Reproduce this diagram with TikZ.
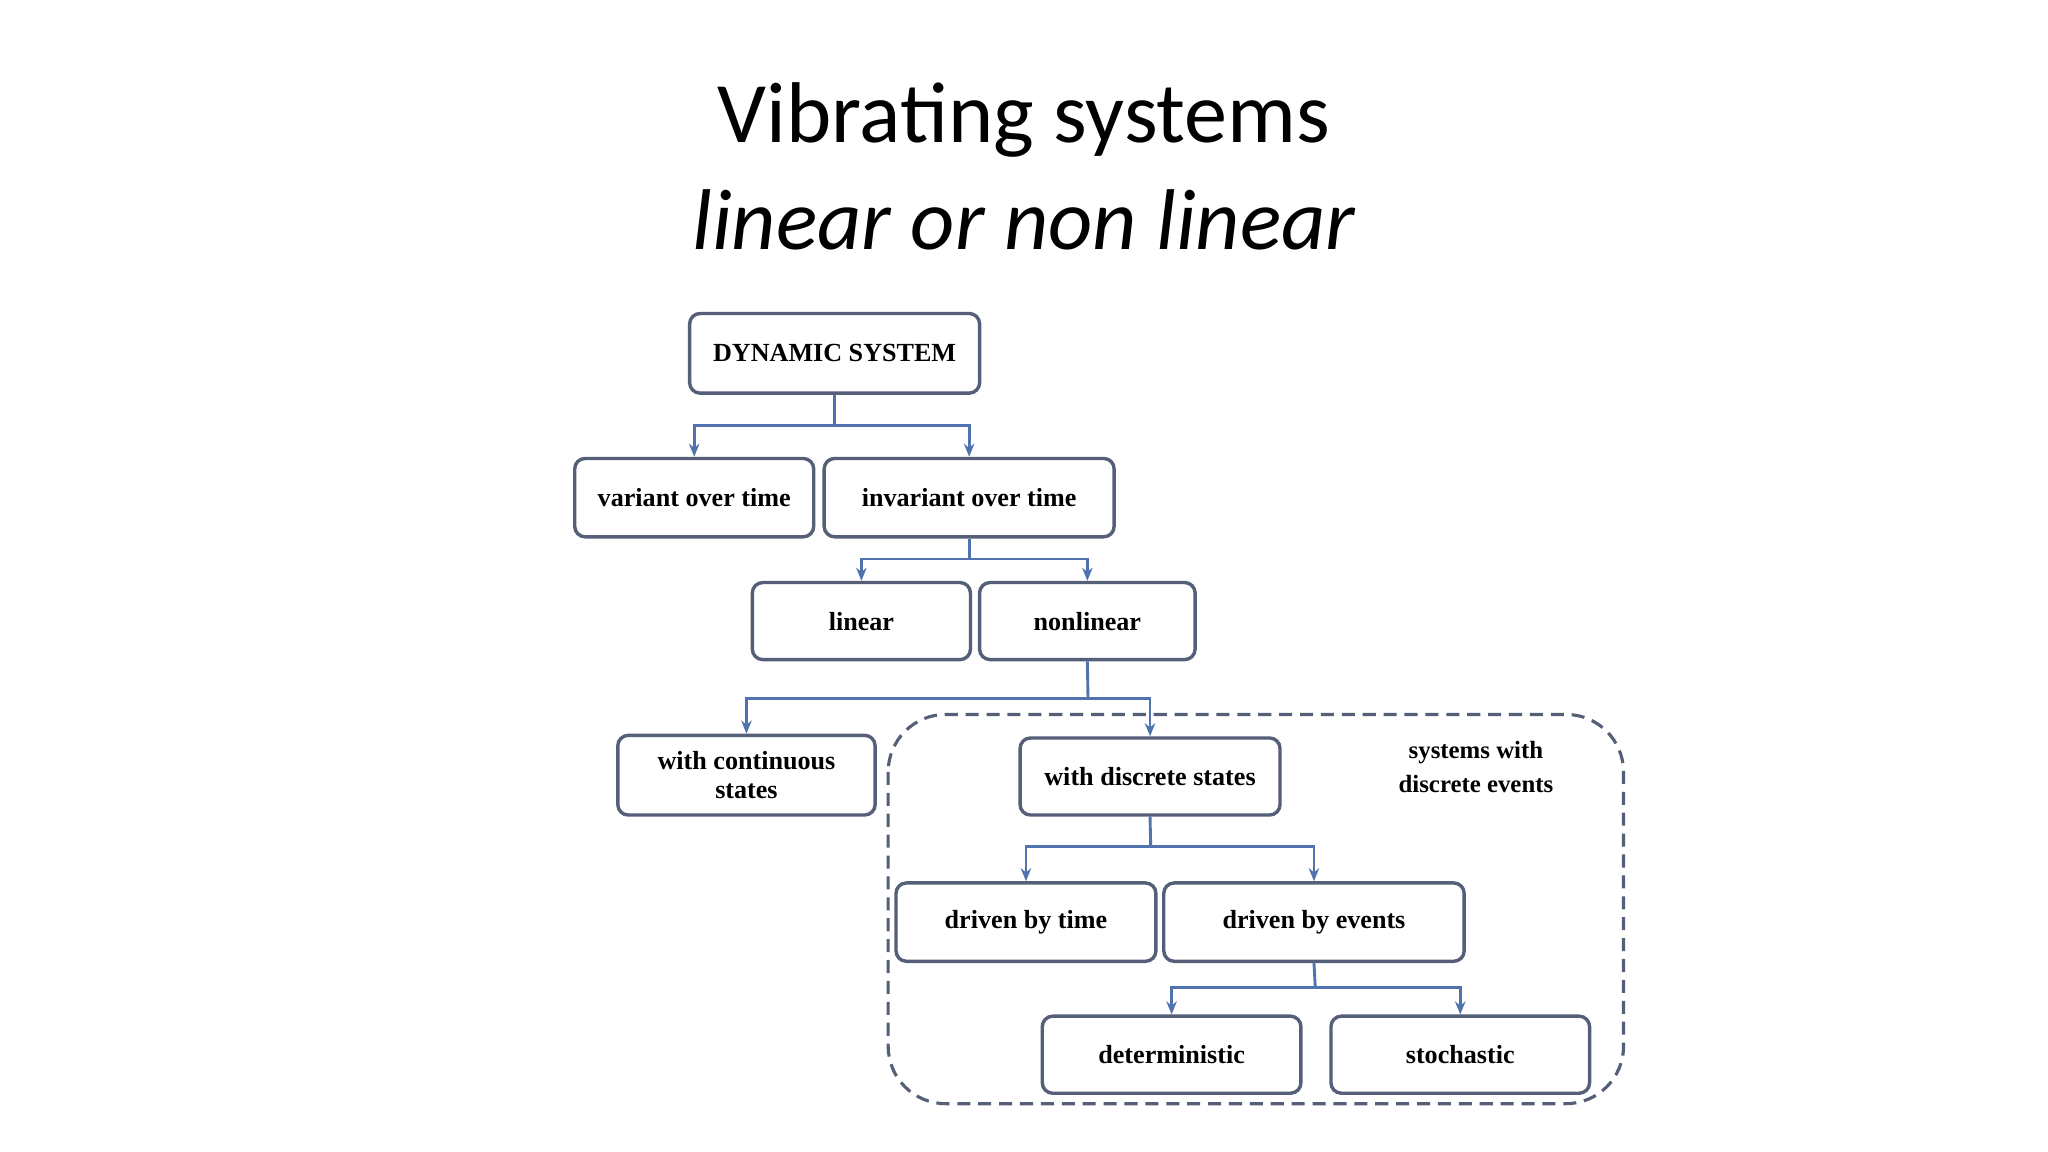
\documentclass[tikz,border=0pt]{standalone}
\usepackage{fontspec}
\setmainfont{Liberation Serif}
\newfontfamily\titlefont{Carlito}
\usetikzlibrary{arrows.meta}
\definecolor{boxc}{RGB}{85,95,120}
\definecolor{linec}{RGB}{80,115,175}
\tikzset{
  bx/.style={draw=boxc,line width=1.3pt,rounded corners=4pt,fill=white,font=\bfseries\fontsize{10}{11}\selectfont,align=center,inner sep=0pt},
  ln/.style={draw=linec,line width=1.1pt},
  ar/.style={ln,-{Stealth[length=5pt,width=4pt]}}
}
\begin{document}
\begin{tikzpicture}[x=0.5pt,y=-0.5pt]
\useasboundingbox[fill=white] (0,0) rectangle (1568,882);
\node[font=\titlefont\fontsize{33}{40}\selectfont] (t1) at (784,92) {Vibrating systems};
\node[font=\titlefont\itshape\fontsize{33}{40}\selectfont] (t2) at (784,168) {linear or non linear};
\draw[draw=boxc,line width=1.2pt,dashed,dash pattern=on 5pt off 3pt,rounded corners=22pt] (680,547) rectangle (1243,845);
\node[font=\bfseries\fontsize{9.5}{13}\selectfont,align=center] (sde) at (1130,587) {systems with\\discrete events};
\newcommand\bnode[6]{\node[bx,minimum width=#4*0.5pt,minimum height=#5*0.5pt] (#1) at (#2,#3) {#6};}
\bnode{dyn}{639}{270.5}{222}{61}{DYNAMIC SYSTEM}
\bnode{var}{531.5}{381}{183}{60}{variant over time}
\bnode{inv}{742}{381}{222}{60}{invariant over time}
\bnode{lin}{659.5}{475.5}{167}{59}{linear}
\bnode{nl}{832.5}{475.5}{165}{59}{nonlinear}
\bnode{cont}{571.5}{593.5}{197}{61}{with continuous\\states}
\bnode{disc}{880.5}{594.5}{199}{59}{with discrete states}
\bnode{dt}{785.5}{706}{199}{60}{driven by time}
\bnode{de}{1006}{706}{230}{60}{driven by events}
\bnode{det}{897}{807.5}{198}{59}{deterministic}
\bnode{sto}{1118}{807.5}{198}{59}{stochastic}
\coordinate (j1) at (639,326);
\coordinate (j2) at (742,428);
\coordinate (j3) at (833,535);
\coordinate (j4) at (881,648);
\coordinate (j5) at (1007,756);
\draw[ln] (dyn.south) -- (j1);
\draw[ar] (j1) -| (var.north); \draw[ar] (j1) -| (inv.north);
\draw[ln] (inv.south) -- (j2);
\draw[ar] (j2) -| (lin.north); \draw[ar] (j2) -| (nl.north);
\draw[ln] (nl.south) -- (j3);
\draw[ar] (j3) -| (cont.north); \draw[ar] (j3) -| (disc.north);
\draw[ln] (disc.south) -- (j4);
\draw[ar] (j4) -| (dt.north); \draw[ar] (j4) -| (de.north);
\draw[ln] (de.south) -- (j5);
\draw[ar] (j5) -| (det.north); \draw[ar] (j5) -| (sto.north);
\end{tikzpicture}
\end{document}
